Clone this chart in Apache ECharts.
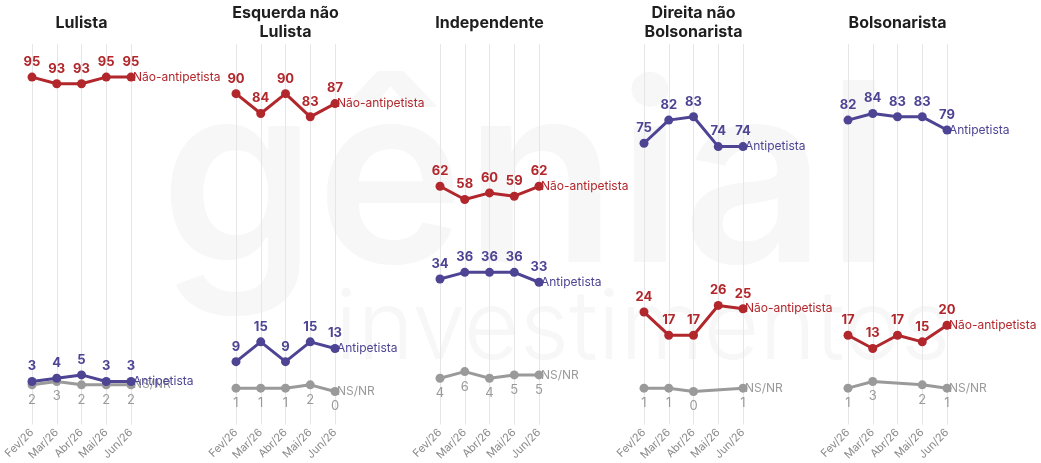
<!DOCTYPE html>
<html lang="pt-BR">
<head>
<meta charset="utf-8">
<title>Antipetismo por segmento</title>
<script src="https://cdn.jsdelivr.net/npm/echarts@6/dist/echarts.min.js"></script>
<style>
  html, body { margin: 0; padding: 0; background: #fff; }
  #chart { width: 1041px; height: 463px; }
</style>
</head>
<body>
<div id="chart"></div>
<script>
// meses (eixo x)
const months = ['Fev/26', 'Mar/26', 'Abr/26', 'Mai/26', 'Jun/26'];

// painéis
const panelTitles = ['Lulista', 'Esquerda não\nLulista', 'Independente', 'Direita não\nBolsonarista', 'Bolsonarista'];

// Não-antipetista por painel
const naoLulista = [95, 93, 93, 95, 95];
const naoEsquerda = [90, 84, 90, 83, 87];
const naoIndep = [62, 58, 60, 59, 62];
const naoDireita = [24, 17, 17, 26, 25];
const naoBolso = [17, 13, 17, 15, 20];

// Antipetista por painel
const antiLulista = [3, 4, 5, 3, 3];
const antiEsquerda = [9, 15, 9, 15, 13];
const antiIndep = [34, 36, 36, 36, 33];
const antiDireita = [75, 82, 83, 74, 74];
const antiBolso = [82, 84, 83, 83, 79];

// NS/NR por painel (null = sem dado)
const nsLulista = [2, 3, 2, 2, 2];
const nsEsquerda = [1, 1, 1, 2, 0];
const nsIndep = [4, 6, 4, 5, 5];
const nsDireita = [1, 1, 0, null, 1];
const nsBolso = [1, 3, null, 2, 1];

const naoData = [naoLulista, naoEsquerda, naoIndep, naoDireita, naoBolso];
const antiData = [antiLulista, antiEsquerda, antiIndep, antiDireita, antiBolso];
const nsData = [nsLulista, nsEsquerda, nsIndep, nsDireita, nsBolso];

const RED = '#b1272c';
const PURPLE = '#4d4494';
const GRAY = '#9a9a9a';
const FONT = 'Inter, "Noto Sans", sans-serif';

const panelLeft = [32, 236, 440, 644, 848];
const panelWidth = 99;

const grids = [], xAxes = [], yAxes = [], series = [], graphics = [];

// marca d'água
graphics.push({
  type: 'text', left: 160, top: 62, z: -10, silent: true,
  style: { text: 'gênial', font: '600 250px ' + FONT, fill: '#f7f7f7' }
});
graphics.push({
  type: 'text', left: 335, top: 282, z: -10, silent: true,
  style: { text: 'investimentos', font: '300 96px ' + FONT, fill: '#f7f7f7' }
});

function mkSeries(name, data, color, idx, labelPos, bold, z) {
  return {
    name: name,
    type: 'line',
    xAxisIndex: idx,
    yAxisIndex: idx,
    data: data,
    connectNulls: true,
    symbol: 'circle',
    symbolSize: 9,
    z: z,
    lineStyle: { color: color, width: 3 },
    itemStyle: { color: color },
    label: {
      show: true,
      position: labelPos,
      distance: 4,
      color: color,
      fontFamily: FONT,
      fontSize: 13,
      fontWeight: bold ? 'bold' : 'normal'
    },
    endLabel: {
      show: true,
      formatter: name,
      color: color,
      fontFamily: FONT,
      fontSize: 12,
      distance: 2
    },
    emphasis: { disabled: true },
    animation: false
  };
}

for (let i = 0; i < 5; i++) {
  grids.push({ left: panelLeft[i], width: panelWidth, top: 44, bottom: 36 });
  xAxes.push({
    type: 'category',
    gridIndex: i,
    data: months,
    boundaryGap: false,
    axisLine: { show: false },
    axisTick: { show: false },
    splitLine: { show: true, lineStyle: { color: '#e6e6e6', width: 1 } },
    axisLabel: { rotate: 45, color: '#8a8a8a', fontFamily: FONT, fontSize: 11, margin: 6, interval: 0 }
  });
  yAxes.push({ type: 'value', gridIndex: i, min: -10, max: 105, show: false });

  series.push(mkSeries('NS/NR', nsData[i], GRAY, i, 'bottom', false, 2));
  series.push(mkSeries('Não-antipetista', naoData[i], RED, i, 'top', true, 3));
  series.push(mkSeries('Antipetista', antiData[i], PURPLE, i, 'top', true, 4));

  graphics.push({
    type: 'text',
    x: panelLeft[i] + panelWidth / 2,
    y: 23,
    style: {
      text: panelTitles[i],
      align: 'center',
      verticalAlign: 'middle',
      font: 'bold 16px ' + FONT,
      lineHeight: 19,
      fill: '#1e1e1e'
    }
  });
}

const chart = echarts.init(document.getElementById('chart'));
chart.setOption({
  backgroundColor: '#fff',
  animation: false,
  grid: grids,
  xAxis: xAxes,
  yAxis: yAxes,
  series: series,
  graphic: graphics
});
</script>
</body>
</html>
